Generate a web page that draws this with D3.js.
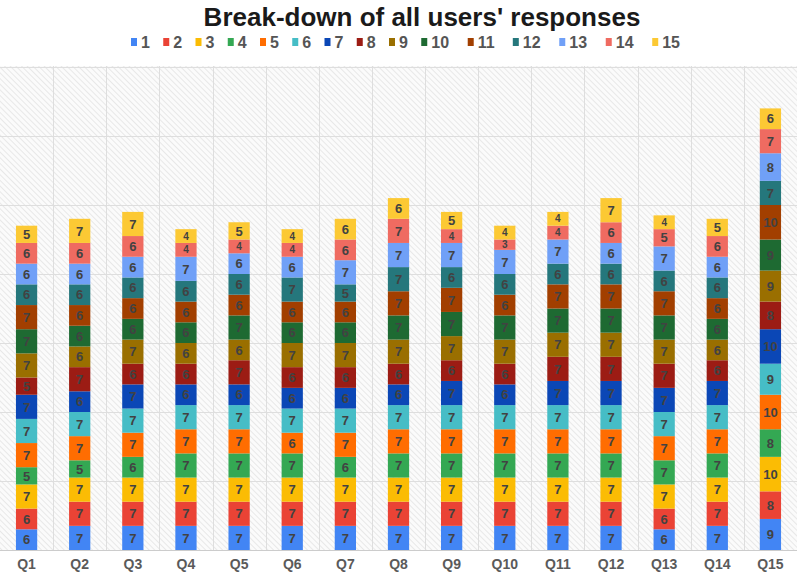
<!DOCTYPE html>
<html>
<head>
<meta charset="utf-8">
<script src="https://cdn.jsdelivr.net/npm/d3@7"></script>
<style>
  body { margin: 0; background: #fff; }
  svg { display: block; font-family: "Liberation Sans", Arial, sans-serif; }
</style>
</head>
<body>
<div id="chart"></div>
<script>
const w = 797;
const h = 576;

const questions = ['Q1','Q2','Q3','Q4','Q5','Q6','Q7','Q8','Q9','Q10','Q11','Q12','Q13','Q14','Q15'];
const seriesNames = ['1','2','3','4','5','6','7','8','9','10','11','12','13','14','15'];
const colors = ['#4285f4','#ea4335','#fbbc04','#34a853','#ff6d01','#46bdc6','#0b47b6',
                '#9c1c14','#9a6f00','#1e6a32','#a23f00','#25777c','#70a0f7','#ef6b61','#fcc934'];

// one row per answer value (series 1..15), one column per question
const s1  = [6,7,7,7,7,7,7,7,7,7,7,7,6,7,9];
const s2  = [6,7,7,7,7,7,7,7,7,7,7,7,6,7,8];
const s3  = [7,7,7,7,7,7,7,7,7,7,7,7,7,7,10];
const s4  = [5,5,6,7,7,7,6,7,7,7,7,7,7,7,8];
const s5  = [7,7,7,7,7,6,7,7,7,7,7,7,7,7,10];
const s6  = [7,7,7,7,7,7,7,7,7,7,7,7,7,7,9];
const s7  = [7,6,7,6,6,6,6,6,7,6,7,7,7,7,10];
const s8  = [5,7,6,6,7,6,6,6,6,6,7,7,7,6,8];
const s9  = [7,6,7,6,6,7,7,7,7,7,7,7,7,6,9];
const s10 = [7,6,6,6,7,6,6,7,7,7,7,7,7,6,9];
const s11 = [7,6,6,6,6,6,6,7,7,6,7,7,7,6,10];
const s12 = [6,6,6,6,6,7,5,7,6,6,6,6,6,6,7];
const s13 = [6,6,6,7,6,6,7,7,7,7,7,6,7,6,8];
const s14 = [6,6,6,4,4,4,6,7,4,3,4,6,5,6,7];
const s15 = [5,7,7,4,5,4,6,6,5,4,4,7,4,5,6];
const seriesValues = [s1,s2,s3,s4,s5,s6,s7,s8,s9,s10,s11,s12,s13,s14,s15];
const yTicks = [0,20,40,60,80,100,120,140];

const table = questions.map((q, i) => {
  const row = { q: q };
  seriesNames.forEach((s, j) => row[s] = seriesValues[j][i]);
  return row;
});

const plotTop = 66, plotBottom = 550;

const x = d3.scaleBand()
  .domain(questions)
  .range([0, w])
  .paddingInner(0.6)
  .paddingOuter(0.3);

const y = d3.scaleLinear()
  .domain([0, 140])
  .range([plotBottom, plotTop + 1]);

const color = d3.scaleOrdinal().domain(seriesNames).range(colors);

const stack = d3.stack().keys(seriesNames)(table);

const svg = d3.select('#chart')
  .append('svg')
  .attr('width', w)
  .attr('height', h);

// hatched background
const pat = svg.append('defs').append('pattern')
  .attr('id', 'hatch')
  .attr('patternUnits', 'userSpaceOnUse')
  .attr('width', 4)
  .attr('height', 4)
  .attr('patternTransform', 'rotate(-45)');
pat.append('rect').attr('width', 4).attr('height', 4).attr('fill', '#fbfbfb');
pat.append('line')
  .attr('x1', 0).attr('y1', 0).attr('x2', 0).attr('y2', 4)
  .attr('stroke', '#e4e4e4').attr('stroke-width', 1.6);

svg.append('rect')
  .attr('x', 0)
  .attr('y', plotTop)
  .attr('width', w)
  .attr('height', plotBottom - plotTop)
  .attr('fill', 'url(#hatch)');

// grid
const step = x.step();
svg.append('g')
  .selectAll('line')
  .data(d3.range(1, questions.length))
  .enter()
  .append('line')
  .attr('x1', d => Math.round(d * step) + 0.5)
  .attr('x2', d => Math.round(d * step) + 0.5)
  .attr('y1', plotTop)
  .attr('y2', plotBottom)
  .attr('stroke', '#dedede');

svg.append('g')
  .selectAll('line')
  .data(yTicks)
  .enter()
  .append('line')
  .attr('x1', 0)
  .attr('x2', w)
  .attr('y1', d => Math.round(y(d)) + 0.5)
  .attr('y2', d => Math.round(y(d)) + 0.5)
  .attr('stroke', d => d === 0 ? '#cccccc' : '#dedede');

// bars
const layers = svg.append('g')
  .selectAll('g')
  .data(stack)
  .enter()
  .append('g')
  .attr('fill', d => color(d.key));

layers.selectAll('rect')
  .data(d => d)
  .enter()
  .append('rect')
  .attr('x', d => x(d.data.q))
  .attr('y', d => y(d[1]))
  .attr('width', x.bandwidth())
  .attr('height', d => y(d[0]) - y(d[1]));

layers.selectAll('text')
  .data(d => d)
  .enter()
  .append('text')
  .attr('x', d => x(d.data.q) + x.bandwidth() / 2)
  .attr('y', d => (y(d[0]) + y(d[1])) / 2)
  .attr('dy', '0.36em')
  .attr('text-anchor', 'middle')
  .attr('fill', '#424242')
  .attr('font-size', d => (d[1] - d[0]) <= 4 ? 10 : 13)
  .attr('font-weight', 'bold')
  .text(d => d[1] - d[0]);

// x axis labels
const xAxis = d3.axisBottom(x).tickSize(0).tickPadding(9);
const gx = svg.append('g')
  .attr('transform', 'translate(0,' + plotBottom + ')')
  .call(xAxis);
gx.select('.domain').remove();
gx.selectAll('text')
  .attr('font-size', 14)
  .attr('font-weight', 'bold')
  .attr('fill', '#5a5a5a')
  .attr('font-family', '"Liberation Sans", Arial, sans-serif');

// title
svg.append('text')
  .attr('x', 422)
  .attr('y', 26)
  .attr('text-anchor', 'middle')
  .attr('font-size', 26)
  .attr('font-weight', 'bold')
  .attr('fill', '#1a1a1a')
  .text("Break-down of all users' responses");

// legend
const legend = svg.append('g').attr('transform', 'translate(131,42)');
let lx = 0;
seriesNames.forEach((s, i) => {
  const item = legend.append('g').attr('transform', 'translate(' + lx + ',0)');
  item.append('rect')
    .attr('x', 0).attr('y', -4)
    .attr('width', 6).attr('height', 8)
    .attr('fill', color(s));
  const t = item.append('text')
    .attr('x', 10)
    .attr('dy', '0.36em')
    .attr('font-size', 16)
    .attr('font-weight', 'bold')
    .attr('fill', '#555')
    .text(s);
  lx += 18 + 1.6 * t.node().getComputedTextLength();
});
</script>
</body>
</html>
